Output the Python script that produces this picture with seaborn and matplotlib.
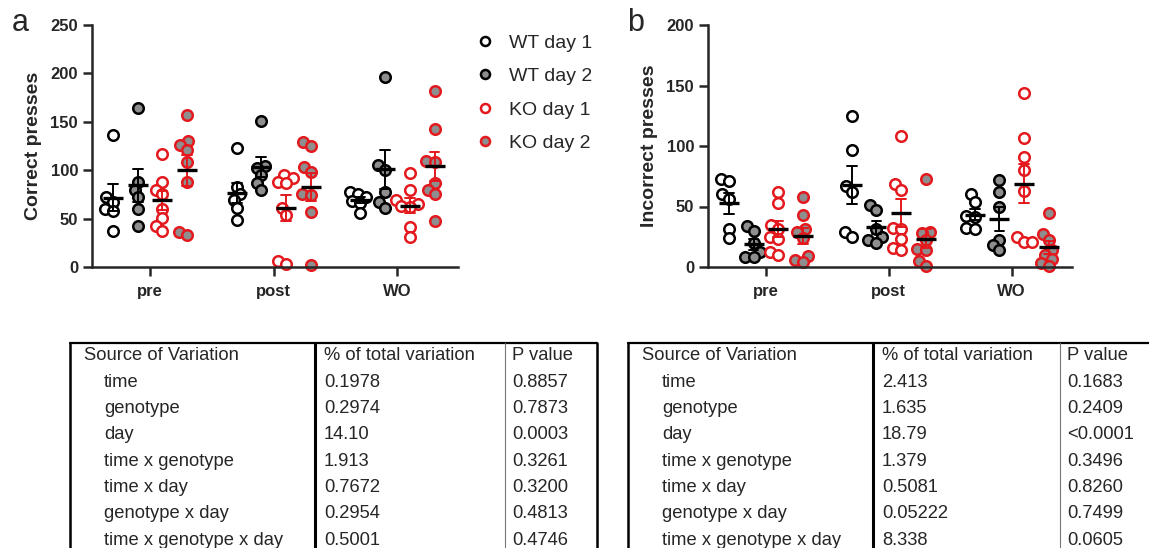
import numpy as np
import pandas as pd
import seaborn as sns
import matplotlib.pyplot as plt
from matplotlib.lines import Line2D
from matplotlib.colors import to_rgba

# ---------------- data ----------------
times = ["pre", "post", "WO"]
groups = ["WT day 1", "WT day 2", "KO day 1", "KO day 2"]

# Correct presses (panel a)
correct_wt_d1 = {"pre": [136, 72, 67, 60, 58, 37], "post": [123, 83, 75, 69, 61, 49], "WO": [77, 75, 72, 68, 66, 56]}
correct_wt_d2 = {"pre": [164, 88, 80, 72, 60, 42], "post": [151, 104, 102, 95, 87, 80], "WO": [196, 105, 100, 77, 67, 61]}
correct_ko_d1 = {"pre": [117, 88, 80, 75, 60, 51, 42, 37], "post": [95, 92, 88, 87, 61, 54, 6, 3], "WO": [97, 80, 69, 65, 63, 62, 41, 31]}
correct_ko_d2 = {"pre": [157, 130, 126, 121, 108, 88, 36, 33], "post": [129, 125, 103, 98, 75, 74, 57, 2], "WO": [182, 143, 110, 108, 87, 80, 75, 48]}

# Incorrect presses (panel b)
incorrect_wt_d1 = {"pre": [73, 71, 60, 56, 31, 24], "post": [125, 97, 67, 62, 29, 25], "WO": [60, 54, 42, 41, 32, 31]}
incorrect_wt_d2 = {"pre": [34, 30, 20, 12, 8, 8], "post": [51, 47, 31, 25, 22, 20], "WO": [72, 62, 50, 22, 18, 14]}
incorrect_ko_d1 = {"pre": [62, 53, 35, 31, 25, 23, 12, 10], "post": [108, 69, 64, 32, 31, 23, 16, 14], "WO": [144, 107, 91, 80, 63, 25, 21, 21]}
incorrect_ko_d2 = {"pre": [58, 43, 31, 29, 24, 9, 6, 4], "post": [73, 29, 28, 22, 15, 14, 5, 1], "WO": [45, 27, 22, 14, 10, 7, 3, 1]}

# ANOVA tables
sources = ["time", "genotype", "day", "time x genotype", "time x day",
           "genotype x day", "time x genotype x day"]
pct_a = ["0.1978", "0.2974", "14.10", "1.913", "0.7672", "0.2954", "0.5001"]
p_a = ["0.8857", "0.7873", "0.0003", "0.3261", "0.3200", "0.4813", "0.4746"]
pct_b = ["2.413", "1.635", "18.79", "1.379", "0.5081", "0.05222", "8.338"]
p_b = ["0.1683", "0.2409", "<0.0001", "0.3496", "0.8260", "0.7499", "0.0605"]
header = ["Source of Variation", "% of total variation", "P value"]

# ---------------- style ----------------
RED = "#e3191e"
GRAY = "#8e8e8e"
face = {"WT day 1": "white", "WT day 2": GRAY, "KO day 1": "white", "KO day 2": GRAY}
edge = {"WT day 1": "black", "WT day 2": "black", "KO day 1": RED, "KO day 2": RED}
err_col = {"WT day 1": "black", "WT day 2": "black", "KO day 1": RED, "KO day 2": RED}
placeholder = {"WT day 1": "#ff0000", "WT day 2": "#00ff00", "KO day 1": "#0000ff", "KO day 2": "#ffff00"}
MARKER_D = 7.6     # drawn marker diameter (pt)
LAYOUT_D = 4.0     # diameter used for the swarm layout (allows overlap)

sns.set_style("ticks")
plt.rcParams["font.family"] = ["Liberation Sans", "DejaVu Sans"]


def to_long(d1, d2, d3, d4):
    rows = []
    for g, d in zip(groups, [d1, d2, d3, d4]):
        for t in times:
            for v in d[t]:
                rows.append({"time": t, "group": g, "value": v})
    return pd.DataFrame(rows)


def panel(ax, df, ymax, ylabel, labelpad):
    sns.swarmplot(data=df, x="time", y="value", hue="group", order=times,
                  hue_order=groups, dodge=True, palette=placeholder, size=LAYOUT_D,
                  linewidth=1.8, ax=ax, legend=False, warn_thresh=1.0)
    for coll in ax.collections:
        fcs = coll.get_facecolor()
        if len(fcs) == 0:
            continue
        fc = fcs[0]
        for g, pc in placeholder.items():
            if np.allclose(fc, to_rgba(pc), atol=0.02):
                coll.set_facecolor(face[g])
                coll.set_edgecolor(edge[g])
                coll.set_linewidth(1.8)
        coll.set_clip_on(False)
        coll.set_zorder(2)
    # SEM error bars
    sns.pointplot(data=df, x="time", y="value", hue="group", order=times,
                  hue_order=groups, dodge=0.6, errorbar="se", palette=err_col,
                  markers="_", markersize=0, linestyles="none", capsize=0.08,
                  err_kws={"linewidth": 1.4}, ax=ax, legend=False)
    # mean lines
    sns.pointplot(data=df, x="time", y="value", hue="group", order=times,
                  hue_order=groups, dodge=0.6, errorbar=None,
                  palette={g: "black" for g in groups},
                  markers="_", markersize=14, markeredgewidth=2.4,
                  linestyles="none", ax=ax, legend=False)
    for ln in ax.lines:
        ln.set_zorder(3)
        ln.set_clip_on(False)
    ax.set_xlim(-0.47, 2.49)
    ax.set_ylim(0, ymax)
    ax.set_yticks(np.arange(0, ymax + 1, 50))
    ax.set_xlabel("")
    ax.set_ylabel(ylabel, fontsize=14, fontweight="bold", labelpad=labelpad)
    sns.despine(ax=ax)
    for s in ["left", "bottom"]:
        ax.spines[s].set_linewidth(1.8)
    ax.tick_params(axis="both", width=1.8, length=6.5, labelsize=12)
    ax.tick_params(axis="x", pad=6)
    for lab in ax.get_xticklabels() + ax.get_yticklabels():
        lab.set_fontweight("bold")


fig = plt.figure(figsize=(11.49, 5.48), dpi=100)
W, H = 1149, 548
ax_a = fig.add_axes([92 / W, 1 - 267 / H, 366 / W, 242 / H])
ax_b = fig.add_axes([708 / W, 1 - 267 / H, 364 / W, 242 / H])

panel(ax_a, to_long(correct_wt_d1, correct_wt_d2, correct_ko_d1, correct_ko_d2),
      250, "Correct presses", 6)
panel(ax_b, to_long(incorrect_wt_d1, incorrect_wt_d2, incorrect_ko_d1, incorrect_ko_d2),
      200, "Incorrect presses", 6)

# compute the swarm layout with the small layout size, then freeze it and
# enlarge the markers so that they overlap like in the original figure
fig.canvas.draw()
for ax in (ax_a, ax_b):
    for coll in ax.collections:
        if "draw" in coll.__dict__:
            del coll.__dict__["draw"]
        coll.set_sizes([MARKER_D ** 2])

fig.text(12 / W, 1 - 8 / H, "a", fontsize=22, va="top", ha="left")
fig.text(627 / W, 1 - 8 / H, "b", fontsize=22, va="top", ha="left")

# legend
handles = [Line2D([], [], marker="o", linestyle="none", markersize=6.5,
                  markerfacecolor=face[g], markeredgecolor=edge[g],
                  markeredgewidth=1.8) for g in groups]
fig.legend(handles, groups, loc="upper left", bbox_to_anchor=(475 / W, 1 - 34 / H),
           frameon=False, fontsize=14, handlelength=1.0, handletextpad=0.75,
           labelspacing=0.82, borderaxespad=0, borderpad=0)


# tables
def fline(x0, y0, x1, y1, lw=1.5, color="black"):
    fig.add_artist(Line2D([x0 / W, x1 / W], [1 - y0 / H, 1 - y1 / H],
                          transform=fig.transFigure, lw=lw, color=color))


def table(x_left, x_div1, x_div2, x_right, pct, pv):
    top = 343
    bottom = 548
    fline(x_left, top, x_right if x_right else W, top, lw=1.6)
    fline(x_left, top, x_left, bottom, lw=1.8)
    fline(x_div1, top, x_div1, bottom, lw=2.2)
    fline(x_div2, top, x_div2, bottom, lw=0.8, color="#777777")
    if x_right:
        fline(x_right, top, x_right, bottom, lw=1.8)
    y0 = 356
    dy = 26.3
    fs = 13.2
    fig.text((x_left + 14) / W, 1 - y0 / H, header[0], fontsize=fs, va="center")
    fig.text((x_div1 + 9) / W, 1 - y0 / H, header[1], fontsize=fs, va="center")
    fig.text((x_div2 + 7) / W, 1 - y0 / H, header[2], fontsize=fs, va="center")
    for i, (s, a, b) in enumerate(zip(sources, pct, pv)):
        y = y0 + dy * (i + 1)
        fig.text((x_left + 34) / W, 1 - y / H, s, fontsize=fs, va="center")
        fig.text((x_div1 + 9) / W, 1 - y / H, a, fontsize=fs, va="center")
        fig.text((x_div2 + 7) / W, 1 - y / H, b, fontsize=fs, va="center")


table(70, 315, 505, 597, pct_a, p_a)
table(628, 873, 1060, None, pct_b, p_b)

fig.savefig("out.png", dpi=100)
